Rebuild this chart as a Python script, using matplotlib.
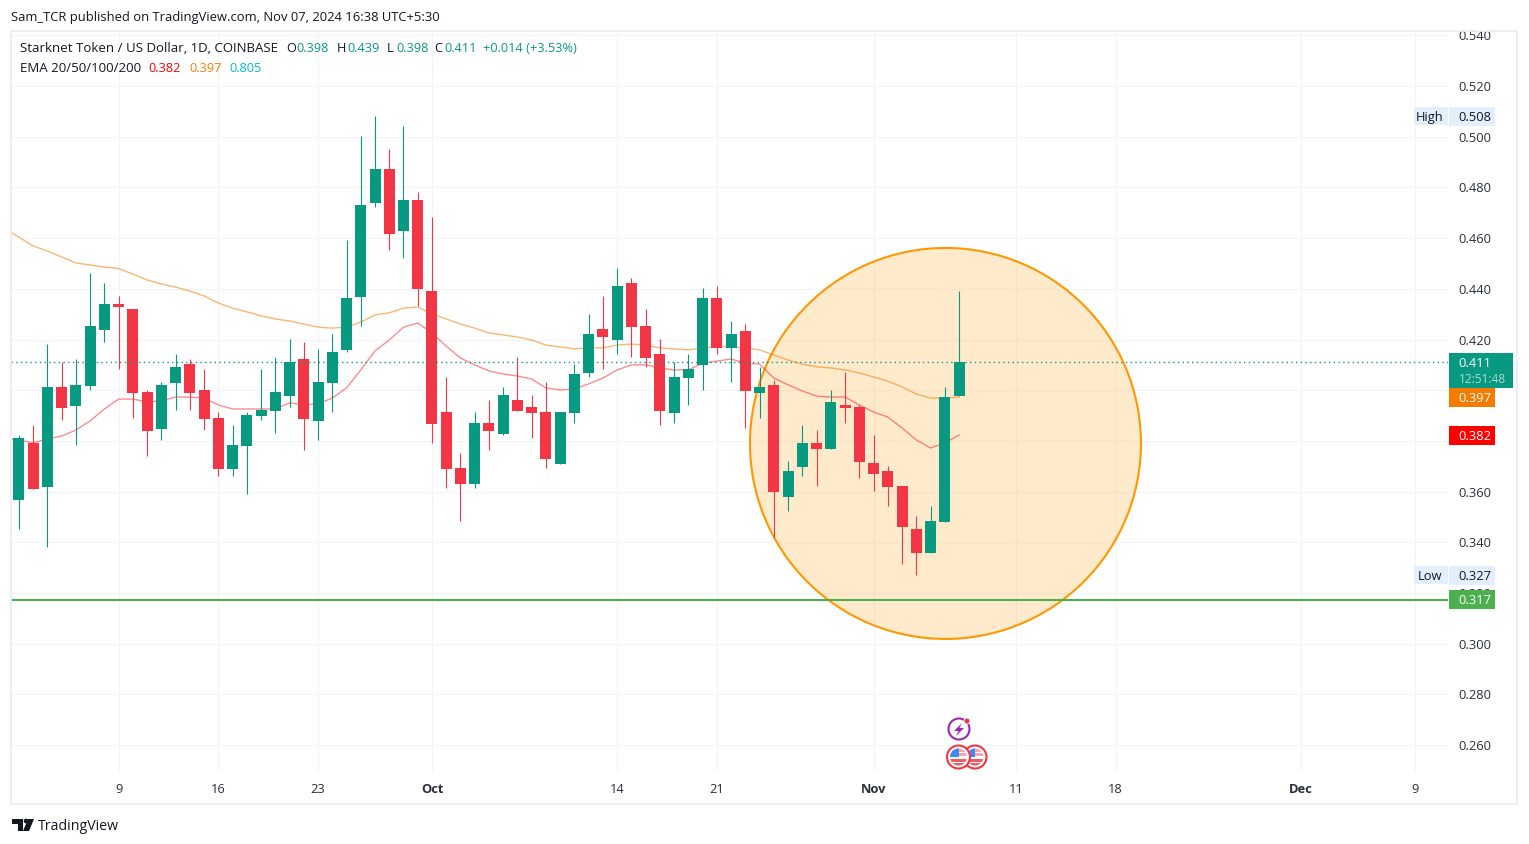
import numpy as np
import pandas as pd
import matplotlib
matplotlib.use('Agg')
import matplotlib.pyplot as plt
from matplotlib.patches import Rectangle, Ellipse, Circle, Polygon
from matplotlib.transforms import IdentityTransform, blended_transform_factory

plt.rcParams['font.family'] = ['Open Sans', 'DejaVu Sans']

# daily candles from Sep 2 to Nov 7 2024
opens = [.3567, .3792, .3618, .4013, .3938, .4017, .4238, .4340, .4320, .3993, .3847, .4029, .4103, .4001, .3890,
         .3689, .3780, .3898, .3918, .3977, .4123, .3879, .4029, .4159, .4368, .4739, .4873, .4628, .4750, .4391,
         .3914, .3693, .3630, .3871, .3827, .3962, .3934, .3914, .3709, .3910, .4068, .4241, .4198, .4423, .4253,
         .4143, .3910, .4048, .4100, .4364, .4167, .4234, .3989, .4021, .3579, .3697, .3792, .3768, .3942, .3934,
         .3713, .3681, .3622, .3453, .3358, .3480, .3977]
highs = [.3823, .3863, .4182, .4111, .4123, .4462, .4423, .4372, .4320, .4001, .4032, .4143, .4123, .4084, .3914,
         .3863, .3914, .4084, .4131, .4202, .4190, .4163, .4222, .4593, .5003, .5082, .4952, .5042, .4782, .4683,
         .4052, .3752, .3914, .3962, .4013, .4131, .3981, .4032, .3914, .4103, .4301, .4372, .4482, .4443, .4320,
         .4202, .4111, .4143, .4403, .4411, .4273, .4261, .4092, .4040, .3721, .3863, .3843, .4001, .4072, .3942,
         .3823, .3701, .3622, .3504, .3543, .4013, .4391]
lows = [.3453, .3610, .3382, .3882, .3784, .4001, .4190, .4084, .3890, .3740, .3804, .3922, .3922, .3843, .3662,
        .3662, .3590, .3882, .3831, .3934, .3764, .3804, .3914, .4151, .4253, .4723, .4553, .4522, .4332, .3792,
        .3614, .3484, .3614, .3764, .3823, .3918, .3811, .3693, .3709, .3871, .4052, .4084, .4143, .4131, .4092,
        .3863, .3871, .3942, .4001, .4143, .4032, .3851, .3890, .3421, .3524, .3662, .3622, .3768, .3871, .3654,
        .3602, .3543, .3315, .3271, .3358, .3480, .3977]
closes = [.3811, .3610, .4013, .3930, .4021, .4253, .4340, .4328, .3989, .3839, .4021, .4092, .3989, .3886, .3689,
          .3784, .3902, .3922, .3993, .4111, .3886, .4032, .4151, .4364, .4731, .4873, .4616, .4750, .4399, .3867,
          .3689, .3630, .3871, .3839, .3981, .3918, .3910, .3729, .3914, .4064, .4222, .4210, .4411, .4249, .4127,
          .3918, .4052, .4084, .4364, .4167, .4222, .3997, .4013, .3598, .3681, .3792, .3768, .3954, .3930, .3717,
          .3669, .3618, .3460, .3358, .3484, .3973, .4111]

# both start one day before the first candle (Sep 1)
ema20 = [.3811, .3804, .3792, .3808, .3819, .3843, .3879, .3926, .3965, .3965, .3954, .3958, .3973, .3973, .3969,
         .3942, .3926, .3926, .3926, .3926, .3950, .3942, .3946, .3969, .4009, .4080, .4155, .4198, .4249, .4265,
         .4226, .4174, .4127, .4100, .4076, .4064, .4056, .4044, .4009, .4001, .4005, .4025, .4048, .4080, .4100,
         .4100, .4088, .4080, .4080, .4107, .4115, .4123, .4107, .4103, .4048, .4021, .3997, .3977, .3973, .3973,
         .3942, .3914, .3894, .3851, .3804, .3772, .3792, .3823]
ema50 = [.4636, .4604, .4569, .4549, .4526, .4502, .4494, .4486, .4480, .4458, .4435, .4419, .4407, .4391, .4372,
         .4344, .4324, .4309, .4293, .4281, .4273, .4261, .4249, .4245, .4249, .4269, .4297, .4305, .4324, .4328,
         .4301, .4281, .4261, .4245, .4226, .4218, .4210, .4198, .4178, .4171, .4163, .4167, .4167, .4178, .4182,
         .4178, .4167, .4163, .4159, .4167, .4171, .4171, .4167, .4159, .4139, .4119, .4103, .4092, .4088, .4080,
         .4068, .4052, .4036, .4013, .3985, .3969, .3969, .3973]

start_date = '2024-09-02'
tick_dates = ['2024-09-09', '2024-09-16', '2024-09-23', '2024-10-01', '2024-10-14', '2024-10-21',
              '2024-11-01', '2024-11-11', '2024-11-18', '2024-12-01', '2024-12-09']
tick_labels = ['9', '16', '23', 'Oct', '14', '21', 'Nov', '11', '18', 'Dec', '9']
price_ticks = [.26, .28, .30, .32, .34, .36, .38, .40, .42, .44, .46, .48, .50, .52, .54]
# these two sit under the price tags on the scale
hidden_ticks = [.38, .40]

last_price = .411
support = .3174
circle_date = '2024-11-06'
circle_price = .379

GREEN = '#089981'
RED = '#f23645'
INK = '#131722'
W, H = 1529, 844

fig = plt.figure(figsize=(W / 100, H / 100), dpi=100)
ax = fig.add_axes([11 / W, 1 - 772 / H, (1448 - 11) / W, (772 - 31) / H])

x = np.arange(len(opens))
day_px = 14.244
ax.set_xlim((11 - 18.9) / day_px, (1448 - 18.9) / day_px)
ax.set_ylim(0.55393 - 772 / 2535, 0.55393 - 31 / 2535)
price_px = 1 / 2535

ticks_x = (pd.to_datetime(tick_dates) - pd.Timestamp(start_date)).days
ax.set_xticks(ticks_x)
ax.set_xticklabels(tick_labels)
ax.set_yticks(price_ticks)
ax.set_yticklabels(['' if p in hidden_ticks else '%.3f' % p for p in price_ticks])
ax.yaxis.tick_right()
ax.tick_params(axis='both', length=0, labelsize=9.3, labelcolor='#2a2e39')
ax.tick_params(axis='y', pad=7.2)
ax.tick_params(axis='x', pad=8.2)
for lab in ax.get_xticklabels():
    if lab.get_text() in ('Oct', 'Nov', 'Dec'):
        lab.set_fontweight('bold')
ax.grid(True, color='#f3f4f7', lw=0.8)
ax.set_axisbelow(True)
for s in ax.spines.values():
    s.set_visible(False)

# highlight circle
cx = (pd.Timestamp(circle_date) - pd.Timestamp(start_date)).days + 0.05
ax.add_patch(Ellipse((cx, circle_price), 391 / day_px, 391 * price_px, fc=(1, 0.596, 0, 0.2),
                     ec='#ff9800', lw=1.5, zorder=1.5))

ax.axhline(support, color='#4caf50', lw=1.5, zorder=2)
ema_x = np.arange(-1, len(opens))
ax.plot(ema_x, ema50, color='#f57c00', alpha=0.55, lw=1.0, zorder=2.2)
ax.plot(ema_x, ema20, color='#ff0000', alpha=0.45, lw=1.0, zorder=2.2)

colors = [GREEN if c >= o else RED for o, c in zip(opens, closes)]
ax.vlines(x, lows, highs, colors=colors, lw=0.8, zorder=3)
bottoms = np.minimum(opens, closes)
heights = np.abs(np.array(closes) - np.array(opens))
ax.bar(x, heights, bottom=bottoms, width=11 / day_px, color=colors, linewidth=0, zorder=3)

ax.axhline(last_price, color=GREEN, lw=1, ls=(0, (1, 2.4)), zorder=4)

# price scale tags
tr = blended_transform_factory(IdentityTransform(), ax.transData)


def tag(price, text, bg, fg='white', side=None, x1=1495):
    ax.add_patch(Rectangle((1449, price - 9.5 * price_px), x1 - 1449, 19 * price_px, transform=tr,
                           fc=bg, ec='none', clip_on=False, zorder=6))
    ax.text(1458.5, price - 1.0 * price_px, text, transform=tr, color=fg, fontsize=9.3, va='center', ha='left',
            clip_on=False, zorder=7)
    if side:
        ax.add_patch(Rectangle((1414, price - 9 * price_px), 34, 18 * price_px, transform=tr,
                               fc=bg, ec='none', clip_on=False, zorder=6))
        ax.text(1430, price - 1.0 * price_px, side, transform=tr, color=INK, fontsize=9.3, va='center', ha='center',
                clip_on=False, zorder=7)


tag(.508, '0.508', '#e3effd', INK, 'High')
tag(.327, '0.327', '#e3effd', INK, 'Low')
tag(.397, '0.397', '#f57c00')
tag(.382, '0.382', '#ff0000')
tag(support, '0.317', '#4caf50')
ax.add_patch(Rectangle((1449, last_price - 25.5 * price_px), 64, 35 * price_px, transform=tr,
                       fc=GREEN, ec='none', clip_on=False, zorder=6))
ax.text(1458.5, last_price - 1.0 * price_px, '0.411', transform=tr, color='white', fontsize=9.3, va='center',
        clip_on=False, zorder=7)
ax.text(1458.5, last_price - 17 * price_px, '12:51:48', transform=tr, color='#a8dcd0', fontsize=8.6, va='center',
        clip_on=False, zorder=7)


def fx(v):
    return v / W


def fy(v):
    return 1 - v / H


# white band cuts the top tick label, then the chart frame
fig.patches.append(Rectangle((0, fy(30)), 1, 30 / H, transform=fig.transFigure, fc='white', ec='none', zorder=1))
fig.patches.append(Rectangle((fx(11), fy(804)), (1517 - 11) / W, (804 - 31) / H, transform=fig.transFigure,
                             fc='none', ec='#eceef5', lw=1.3, zorder=1.1))


def label(px, py, s, color=INK, size=9.4):
    fig.text(fx(px), fy(py), s, color=color, fontsize=size, va='center', ha='left', zorder=3)


label(11, 18, 'Sam_TCR published on TradingView.com, Nov 07, 2024 16:38 UTC+5:30', size=9.4)
label(20, 49, 'Starknet Token / US Dollar, 1D, COINBASE', size=9.55)
for px, s, col in [(286, 'O', INK), (296, '0.398', GREEN), (337, 'H', INK), (347, '0.439', GREEN),
                   (387, 'L', INK), (396, '0.398', GREEN), (434, 'C', INK), (444, '0.411', GREEN),
                   (483, '+0.014 (+3.53%)', GREEN)]:
    label(px, 49, s, col, 9.2)
label(20, 69, 'EMA 20/50/100/200', size=9.5)
label(148, 69, '0.382', '#ff0000', 9.2)
label(189, 69, '0.397', '#ff7c00', 9.2)
label(229, 69, '0.805', '#00bcd4', 9.2)
label(38, 826, 'TradingView', INK, 10.2)


def px_xy(px, py):
    return (px, H - py)


def add_px(p):
    p.set_transform(IdentityTransform())
    fig.patches.append(p)
    return p


# TradingView logo
add_px(Polygon([px_xy(*q) for q in [(12, 819), (23, 819), (23, 831), (18, 831), (18, 824), (12, 824)]],
               fc=INK, ec='none', zorder=2))
add_px(Circle(px_xy(26, 821), 2.3, fc=INK, ec='none', zorder=2))
add_px(Polygon([px_xy(*q) for q in [(28, 819), (34, 819), (29, 831), (23, 831)]], fc=INK, ec='none', zorder=2))

# event markers
add_px(Circle(px_xy(959, 729), 10.5, fc='white', ec='#9c27b0', lw=1.5, zorder=2))
add_px(Polygon([px_xy(*q) for q in [(962, 723), (954, 731), (958.5, 731), (956, 736), (964, 728), (959.5, 728)]],
               fc='#9c27b0', ec='none', zorder=2.1))
add_px(Circle(px_xy(967, 721), 3, fc=RED, ec='white', lw=0.6, zorder=2.2))

for cxp, z in [(975, 2), (958.5, 2.3)]:
    add_px(Circle(px_xy(cxp, 757), 11.5, fc='white', ec=RED, lw=1.5, zorder=z))
    disc = Circle(px_xy(cxp, 757), 8.5, transform=IdentityTransform())
    for top, hgt, col, x0, wid in [(748, 4, '#f7a6ad', cxp - 9, 18), (753, 3, '#f7a6ad', cxp - 9, 18),
                                   (759, 3, '#f15b66', cxp - 9, 18), (763, 4, '#f15b66', cxp - 9, 18),
                                   (748, 9, '#3d8bf2', cxp - 9, 9)]:
        r = add_px(Rectangle(px_xy(x0, top + hgt), wid, hgt, fc=col, ec='none', zorder=z + 0.05))
        r.set_clip_path(disc)

fig.savefig('out.png', dpi=100, facecolor='white')
